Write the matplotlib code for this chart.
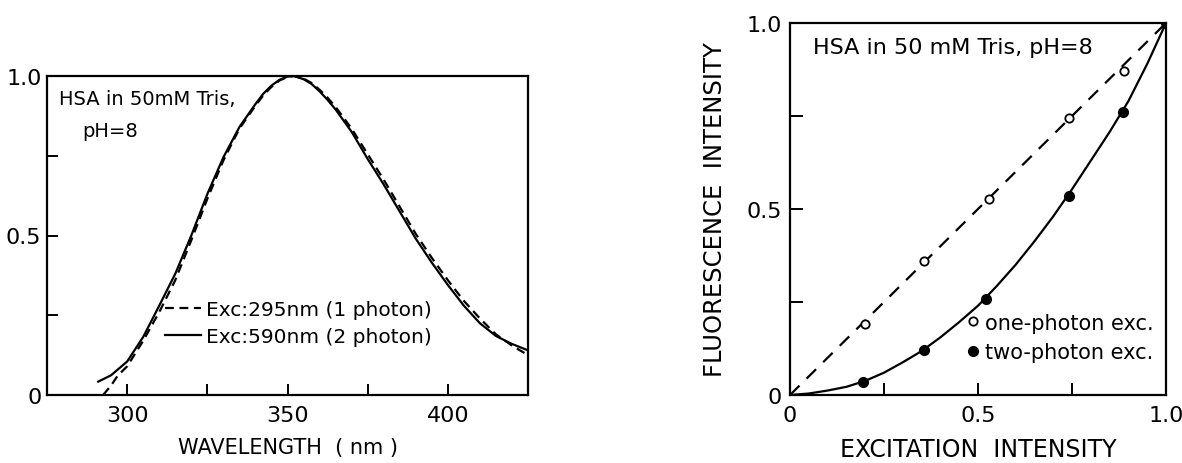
import matplotlib
matplotlib.use("Agg")
import matplotlib.pyplot as plt

plt.rcParams["font.family"] = ["DejaVu Sans"]

# Left panel: emission spectra
wl_two = [291, 295, 300, 305, 310, 315, 320, 325, 330, 335, 340, 342.5, 345, 347.5, 350, 352,
          355, 357.5, 360, 362.5, 365, 370, 375, 380, 385, 390, 395, 400, 405, 410, 415, 420, 425]
em_two = [0.042, 0.062, 0.105, 0.182, 0.28, 0.38, 0.50, 0.63, 0.745, 0.84, 0.912, 0.945, 0.97, 0.988, 0.998, 1.0,
          0.99, 0.975, 0.952, 0.925, 0.895, 0.825, 0.74, 0.66, 0.575, 0.49, 0.415, 0.345, 0.28, 0.225, 0.185, 0.16, 0.14]

wl_one = [292.5, 295, 297, 300, 305, 310, 315, 320, 325, 330, 335, 340, 342.5, 345, 347.5, 350, 352,
          355, 357.5, 360, 362.5, 365, 370, 375, 380, 385, 390, 395, 400, 405, 410, 415, 420, 425]
em_one = [0.0, 0.03, 0.06, 0.09, 0.17, 0.26, 0.36, 0.485, 0.615, 0.735, 0.835, 0.907, 0.94, 0.966, 0.986, 0.997, 1.0,
          0.992, 0.978, 0.957, 0.932, 0.903, 0.835, 0.755, 0.675, 0.59, 0.505, 0.43, 0.36, 0.295, 0.24, 0.19, 0.155, 0.125]

# Right panel: fluorescence vs excitation intensity
one_x = [0.20, 0.356, 0.53, 0.742, 0.887]
one_y = [0.19, 0.36, 0.526, 0.744, 0.872]
two_x = [0.195, 0.356, 0.521, 0.742, 0.885, 1.0]
two_y = [0.035, 0.121, 0.259, 0.534, 0.761, 1.0]

line_one_x = [0.0, 1.0]
line_one_y = [0.0, 1.0]
curve_two_x = [0.0, 0.05, 0.1, 0.15, 0.2, 0.25, 0.3, 0.35, 0.4, 0.45, 0.5,
               0.55, 0.6, 0.65, 0.7, 0.75, 0.8, 0.85, 0.9, 0.95, 1.0]
curve_two_y = [0.0, 0.004, 0.012, 0.022, 0.038, 0.06, 0.088, 0.118, 0.155, 0.196, 0.24,
               0.293, 0.35, 0.413, 0.48, 0.553, 0.63, 0.707, 0.79, 0.89, 1.0]

tick_vals = [0, 0.5, 1.0]
tick_text = ["0", "0.5", "1.0"]

fig = plt.figure(figsize=(11.82, 4.64), dpi=100)
ax1 = fig.add_axes([47 / 1182, 68 / 464, 481 / 1182, 319 / 464])
ax2 = fig.add_axes([790 / 1182, 68 / 464, 376 / 1182, 372 / 464])

lw = 1.6

# ---- left panel
ax1.plot(wl_one, em_one, color="black", lw=lw, dashes=(4, 2.5), label="Exc:295nm (1 photon)")
ax1.plot(wl_two, em_two, color="black", lw=lw, label="Exc:590nm (2 photon)")
ax1.set_xlim(275, 425)
ax1.set_ylim(0, 1.0)
ax1.set_xticks([300, 350, 400])
ax1.set_xticks([325, 375], minor=True)
ax1.set_yticks(tick_vals)
ax1.set_yticklabels(tick_text)
ax1.set_yticks([0.25, 0.75], minor=True)
ax1.tick_params(which="both", direction="in", length=8, width=1.4, labelsize=16)
ax1.tick_params(axis="x", pad=7)
ax1.tick_params(axis="y", pad=4)
ax1.set_xlabel("WAVELENGTH  ( nm )", fontsize=15, labelpad=9)
ax1.text(0.025, 0.93, "HSA in 50mM Tris,", transform=ax1.transAxes, fontsize=14, va="center")
ax1.text(0.073, 0.83, "pH=8", transform=ax1.transAxes, fontsize=14, va="center")
ax1.legend(loc="center left", bbox_to_anchor=(0.245, 0.225), frameon=False, fontsize=14.5,
           handlelength=1.8, handletextpad=0.25, labelspacing=0.4, borderpad=0, borderaxespad=0)

# ---- right panel
ax2.plot(line_one_x, line_one_y, color="black", lw=lw, dashes=(6, 4.5))
ax2.plot(curve_two_x, curve_two_y, color="black", lw=lw)
ax2.plot(one_x, one_y, "o", ms=6, mfc="white", mec="black", mew=1.3, label="one-photon exc.")
ax2.plot(two_x, two_y, "o", ms=7, color="black", label="two-photon exc.")
ax2.set_xlim(0, 1.0)
ax2.set_ylim(0, 1.0)
ax2.set_xticks(tick_vals)
ax2.set_xticklabels(tick_text)
ax2.set_yticks(tick_vals)
ax2.set_yticklabels(tick_text)
ax2.set_xticks([0.25, 0.75], minor=True)
ax2.set_yticks([0.25, 0.75], minor=True)
ax2.tick_params(which="both", direction="in", length=9, width=1.4, labelsize=16)
ax2.tick_params(axis="x", pad=7)
ax2.tick_params(axis="y", pad=6)
ax2.set_xlabel("EXCITATION  INTENSITY", fontsize=17, labelpad=9)
ax2.set_ylabel("FLUORESCENCE  INTENSITY", fontsize=17.5, labelpad=14)
ax2.text(0.06, 0.935, "HSA in 50 mM Tris, pH=8", transform=ax2.transAxes, fontsize=16, va="center")
ax2.legend(loc="center left", bbox_to_anchor=(0.47, 0.155), frameon=False, fontsize=15,
           handlelength=0.6, handletextpad=0.3, labelspacing=0.44, borderpad=0, borderaxespad=0)

for ax in (ax1, ax2):
    for s in ax.spines.values():
        s.set_linewidth(1.6)

fig.savefig("out.png", dpi=100)
